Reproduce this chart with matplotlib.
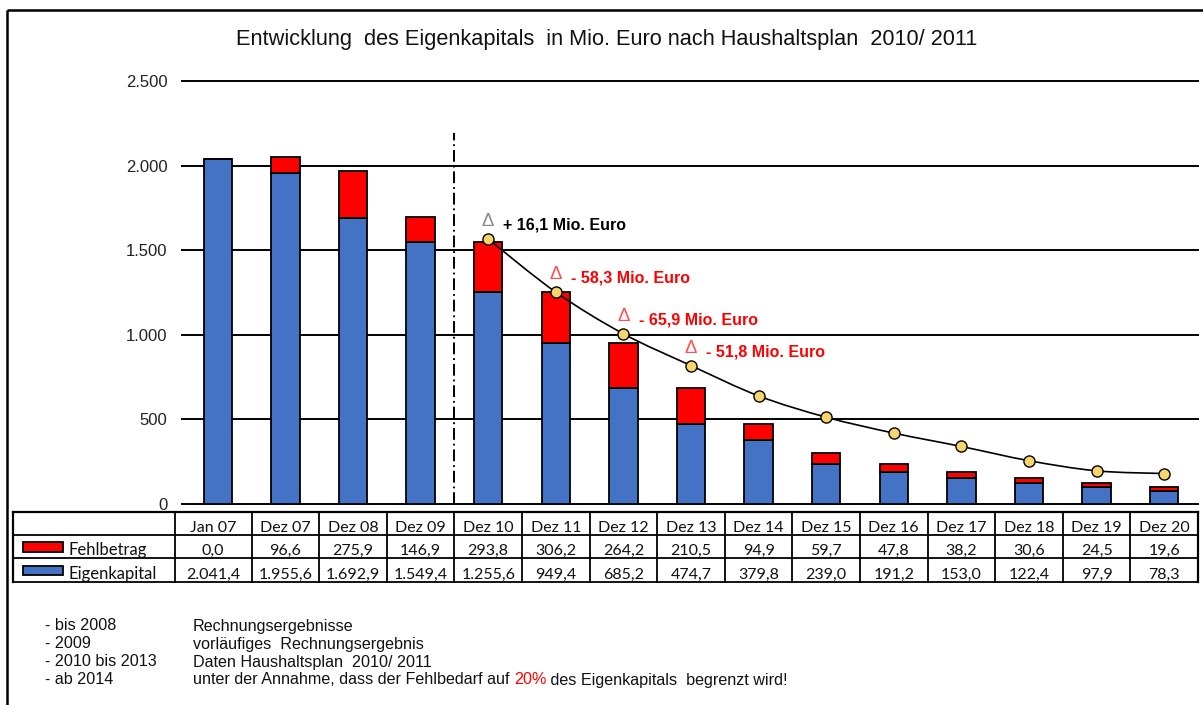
import matplotlib
matplotlib.use("Agg")
import matplotlib.pyplot as plt
from matplotlib.path import Path
from matplotlib.patches import PathPatch, Rectangle
from matplotlib.transforms import blended_transform_factory
import numpy as np

plt.rcParams['lines.scale_dashes'] = False

# ---------------- data ----------------
categories = ["Jan 07", "Dez 07", "Dez 08", "Dez 09", "Dez 10", "Dez 11", "Dez 12",
              "Dez 13", "Dez 14", "Dez 15", "Dez 16", "Dez 17", "Dez 18", "Dez 19", "Dez 20"]
fehlbetrag = [0.0, 96.6, 275.9, 146.9, 293.8, 306.2, 264.2, 210.5, 94.9, 59.7, 47.8, 38.2, 30.6, 24.5, 19.6]
eigenkapital = [2041.4, 1955.6, 1692.9, 1549.4, 1255.6, 949.4, 685.2, 474.7, 379.8, 239.0, 191.2, 153.0, 122.4, 97.9, 78.3]
# comparison line (previous plan), starts at Dez 10
line_start = 4
line_vals = [1566, 1252, 1006, 818, 639, 513, 419, 340, 256, 196, 180]
delta_idx = [4, 5, 6, 7]
delta_labels = ["+ 16,1 Mio. Euro", "- 58,3 Mio. Euro", "- 65,9 Mio. Euro", "- 51,8 Mio. Euro"]
delta_colors = ["black", "#FF0000", "#FF0000", "#FF0000"]
yticks = [0, 500, 1000, 1500, 2000, 2500]
title = "Entwicklung  des Eigenkapitals  in Mio. Euro nach Haushaltsplan  2010/ 2011"
notes_left = ["- bis 2008", "- 2009", "- 2010 bis 2013", "- ab 2014"]
notes_right = ["Rechnungsergebnisse", "vorläufiges  Rechnungsergebnis",
               "Daten Haushaltsplan  2010/ 2011"]
note_last = ["unter der Annahme, dass der Fehlbedarf auf ", "20%", " des Eigenkapitals  begrenzt wird!"]

def de_fmt(v, dec=1):
    s = f"{v:,.{dec}f}"
    return s.replace(",", "X").replace(".", ",").replace("X", ".")

ARIAL = ['Liberation Sans', 'DejaVu Sans']
TABF = ['Lato', 'DejaVu Sans']

W, H = 1203, 705
fig = plt.figure(figsize=(W / 100, H / 100), dpi=100)
ov = fig.add_axes([0, 0, 1, 1])
ov.set_xlim(0, W)
ov.set_ylim(H, 0)
ov.axis('off')

ax = fig.add_axes([184 / W, (H - 504) / H, 1014 / W, 423 / H])
ax.set_xlim(-0.5, 14.5)
ax.set_ylim(0, 2500)
for s in ax.spines.values():
    s.set_visible(False)
ax.set_xticks([])
ax.set_yticks(yticks)
ax.set_yticklabels([de_fmt(v, 0) for v in yticks], fontfamily=ARIAL,
                   fontsize=12, color='#222222')
ax.tick_params(axis='y', length=0, pad=12)
ax.patch.set_visible(False)

for v in yticks:
    ax.axhline(v, xmin=-0.002, xmax=1, color='black', lw=1.4, zorder=0, clip_on=False)

x = np.arange(len(categories))
ax.bar(x, eigenkapital, width=0.42, color='#4472C4', edgecolor='black', lw=1.3, zorder=2)
ax.bar(x, fehlbetrag, bottom=eigenkapital, width=0.42, color='#FF0000', edgecolor='black', lw=1.3, zorder=2)

# dash-dot separator
ax.plot([3.5, 3.5], [0, 2193], color='black', lw=1.4, linestyle=(0, (8.5, 2.8, 1.3, 2.8)), zorder=1)

# smooth line (Bezier through the points)
lx = np.arange(line_start, line_start + len(line_vals))
pts = np.column_stack([lx, line_vals]).astype(float)
verts = [tuple(pts[0])]
codes = [Path.MOVETO]
n = len(pts)
for i in range(n - 1):
    p0 = pts[i - 1] if i > 0 else pts[i]
    p1 = pts[i]
    p2 = pts[i + 1]
    p3 = pts[i + 2] if i + 2 < n else pts[i + 1]
    c1 = p1 + (p2 - p0) / 6.0
    c2 = p2 - (p3 - p1) / 6.0
    verts += [tuple(c1), tuple(c2), tuple(p2)]
    codes += [Path.CURVE4] * 3
ax.add_patch(PathPatch(Path(verts, codes), facecolor='none', edgecolor='black', lw=1.2, zorder=3))
ax.plot(lx, line_vals, 'o', ms=8, mfc='#F8D56C', mec='black', mew=1.0, zorder=4, clip_on=False)

# delta annotations
for k, idx in enumerate(delta_idx):
    yv = line_vals[idx - line_start]
    dcol = '#8A8A8A' if k == 0 else '#FF5050'
    ax.annotate("Δ", xy=(idx, yv), xytext=(0, 12.5), textcoords='offset points',
                ha='center', va='center', fontsize=13.5, color=dcol,
                fontfamily=ARIAL, zorder=5)
    ax.annotate(delta_labels[k], xy=(idx, yv), xytext=(11, 10), textcoords='offset points',
                ha='left', va='center', fontsize=11.5, fontweight='bold', color=delta_colors[k],
                fontfamily=ARIAL, zorder=5)

# title
ov.text(607, 40, title, ha='center', va='center', fontsize=15.7, fontfamily=ARIAL, color='#111111')

# frame (top and left edges)
ov.plot([7, W], [10, 10], color='black', lw=1.8, solid_capstyle='butt')
ov.plot([7, 7], [10, H], color='black', lw=1.8, solid_capstyle='butt')

# ---------------- table ----------------
tr = blended_transform_factory(ax.transData, ov.transData)
row_y = [512, 535, 558, 582]
tleft, tlab = 13, 175
ov.plot([tleft, 1198], [row_y[0]] * 2, color='black', lw=1.6)
for ry in row_y[1:]:
    ov.plot([tleft, 1198], [ry] * 2, color='black', lw=1.3)
ov.plot([tleft, tleft], [row_y[0], row_y[-1]], color='black', lw=1.6)
ov.plot([tlab, tlab], [row_y[0], row_y[-1]], color='black', lw=1.3)
for i in range(len(categories)):
    ax.plot([i + 0.5, i + 0.5], [row_y[0], row_y[-1]], transform=tr, color='black',
            lw=1.3 if i < 14 else 1.6, clip_on=False)

for i, cat in enumerate(categories):
    cx = i if i > 0 else -0.07
    ax.text(cx, row_y[1] - 3.5, cat, transform=tr, ha='center', va='baseline',
            fontsize=11.5, fontfamily=TABF, color='#111111', clip_on=False)
    ax.text(cx, row_y[2] - 3.5, de_fmt(fehlbetrag[i]), transform=tr, ha='center', va='baseline',
            fontsize=11.5, fontfamily=TABF, color='#111111', clip_on=False)
    ax.text(cx, row_y[3] - 3.5, de_fmt(eigenkapital[i]), transform=tr, ha='center', va='baseline',
            fontsize=11.5, fontfamily=TABF, color='#111111', clip_on=False)

ov.add_patch(Rectangle((23, 542), 40, 9.5, facecolor='#FF0000', edgecolor='black', lw=1.3))
ov.add_patch(Rectangle((23, 565.5), 40, 9.5, facecolor='#4472C4', edgecolor='black', lw=1.3))
ov.text(68, row_y[2] - 3.5, "Fehlbetrag", ha='left', va='baseline', fontsize=12, fontfamily=TABF, color='#111111')
ov.text(68, row_y[3] - 3.5, "Eigenkapital", ha='left', va='baseline', fontsize=12, fontfamily=TABF, color='#111111')

# ---------------- notes ----------------
ny = [626, 644, 662, 680]
NFS = 11.6
for j, t in enumerate(notes_left):
    ov.text(45, ny[j], t, ha='left', va='center', fontsize=NFS, fontfamily=ARIAL, color='#111111')
for j, t in enumerate(notes_right):
    ov.text(193, ny[j], t, ha='left', va='center', fontsize=NFS, fontfamily=ARIAL, color='#111111')
t1 = ov.text(193, ny[3], note_last[0], ha='left', va='center', fontsize=NFS, fontfamily=ARIAL, color='#111111')
t2 = ov.annotate(note_last[1], xy=(1, 0), xycoords=t1, ha='left', va='bottom', fontsize=NFS,
                 fontfamily=ARIAL, color='#FF0000')
ov.annotate(note_last[2], xy=(1, 0), xycoords=t2, ha='left', va='bottom', fontsize=NFS,
            fontfamily=ARIAL, color='#111111')

fig.savefig("out.png", dpi=100)
